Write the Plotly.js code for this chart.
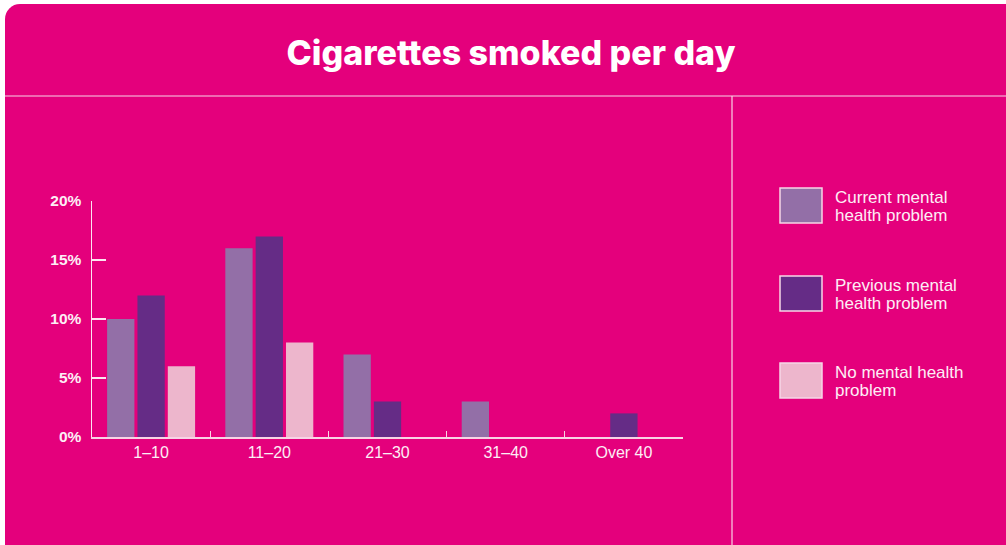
<!DOCTYPE html>
<html>
<head>
<meta charset="utf-8">
<script src="https://cdn.plot.ly/plotly-3.0.1.min.js"></script>
<style>
html,body{margin:0;padding:0;background:#ffffff;width:1006px;height:545px;overflow:hidden;}
#card{position:absolute;left:5px;top:4px;width:1010px;height:556px;background:#e4007c;border-radius:15px 0 0 15px;}
#chart{position:absolute;left:0;top:0;width:1006px;height:545px;}
</style>
</head>
<body>
<div id="card"></div>
<div id="chart"></div>
<script>
const categories = ["1\u201310", "11\u201320", "21\u201330", "31\u201340", "Over 40"];
const seriesNames = ["Current mental<br>health problem", "Previous mental<br>health problem", "No mental health<br>problem"];
const currentVals = [10, 16, 7, 3, 0];
const previousVals = [12, 17, 3, 0, 2];
const noneVals = [6, 8, 0, 0, 0];
const yTicks = [0, 5, 10, 15, 20];
const colors = ["#936fa7", "#652c86", "#edb6cc"];
const seriesVals = [currentVals, previousVals, noneVals];

const textCol = "#fdeef5";
const lineCol = "#f8d3e5";

const traces = seriesVals.map((v, i) => ({
  type: "bar",
  x: categories,
  y: v,
  name: seriesNames[i],
  marker: {color: colors[i], line: {width: 0}},
  hoverinfo: "skip",
  showlegend: false
}));

const H = 545, W = 1006;
const ml = 92, mr = 323, mt = 201, mb = 108;
const pw = W - ml - mr, ph = H - mt - mb;
function px2x(px){ return (px - ml) / pw; }
function py2y(py){ return (H - mb - py) / ph; }
const shapes = [
  {type: "line", xref: "paper", yref: "paper", x0: px2x(5), x1: px2x(1006), y0: py2y(96), y1: py2y(96), line: {color: lineCol, width: 1.2}, layer: "below"},
  {type: "line", xref: "paper", yref: "paper", x0: px2x(732), x1: px2x(732), y0: py2y(96), y1: py2y(546), line: {color: lineCol, width: 1.2}, layer: "below"}
];
// legend drawn as shapes + annotations
const legendTops = [188, 276, 363];
const annotations = [];
legendTops.forEach((t, i) => {
  shapes.push({type: "rect", xref: "paper", yref: "paper",
    x0: px2x(780), x1: px2x(822), y0: py2y(t + 35), y1: py2y(t),
    fillcolor: colors[i], line: {color: "#f6d6e6", width: 1.5}});
  seriesNames[i].split("<br>").forEach((line, k) => {
    annotations.push({xref: "paper", yref: "paper", x: px2x(833), y: py2y(t + 9 + 18 * k),
      xanchor: "left", yanchor: "middle", align: "left", showarrow: false,
      text: line, font: {family: "Liberation Sans, Arial, sans-serif", size: 17, color: textCol}});
  });
});

const layout = {
  width: W, height: H,
  margin: {l: ml, r: mr, t: mt, b: mb, pad: 0},
  paper_bgcolor: "rgba(0,0,0,0)",
  plot_bgcolor: "rgba(0,0,0,0)",
  title: {text: "Cigarettes smoked per day", x: 511 / W, xref: "container", xanchor: "center", y: 1 - 53 / H, yref: "container", yanchor: "middle",
    font: {family: "Inter, Open Sans, sans-serif", size: 34, weight: 800, color: "#ffffff"}},
  barmode: "group",
  bargap: 0.23,
  bargroupgap: 0.1,
  showlegend: false,
  xaxis: {
    type: "category",
    tickson: "boundaries",
    ticks: "inside", ticklen: 6, tickwidth: 1.2, tickcolor: lineCol,
    showline: true, linecolor: lineCol, linewidth: 1.5,
    showgrid: false, zeroline: false,
    tickfont: {family: "Liberation Sans, Arial, sans-serif", size: 16, color: textCol},
    fixedrange: true
  },
  yaxis: {
    range: [0, 20],
    tickvals: yTicks,
    ticktext: yTicks.map(v => v + "%"),
    ticks: "inside", ticklen: 14, tickwidth: 1.5, tickcolor: "#fbe6f0",
    showline: true, linecolor: "#fbe6f0", linewidth: 1.5,
    showgrid: false, zeroline: false,
    ticklabelstandoff: 6,
    tickfont: {family: "Liberation Sans, Arial, sans-serif", size: 15.5, weight: "bold", color: textCol},
    fixedrange: true
  },
  shapes: shapes,
  annotations: annotations
};

Plotly.newPlot("chart", traces, layout, {displayModeBar: false, staticPlot: true});
</script>
</body>
</html>
